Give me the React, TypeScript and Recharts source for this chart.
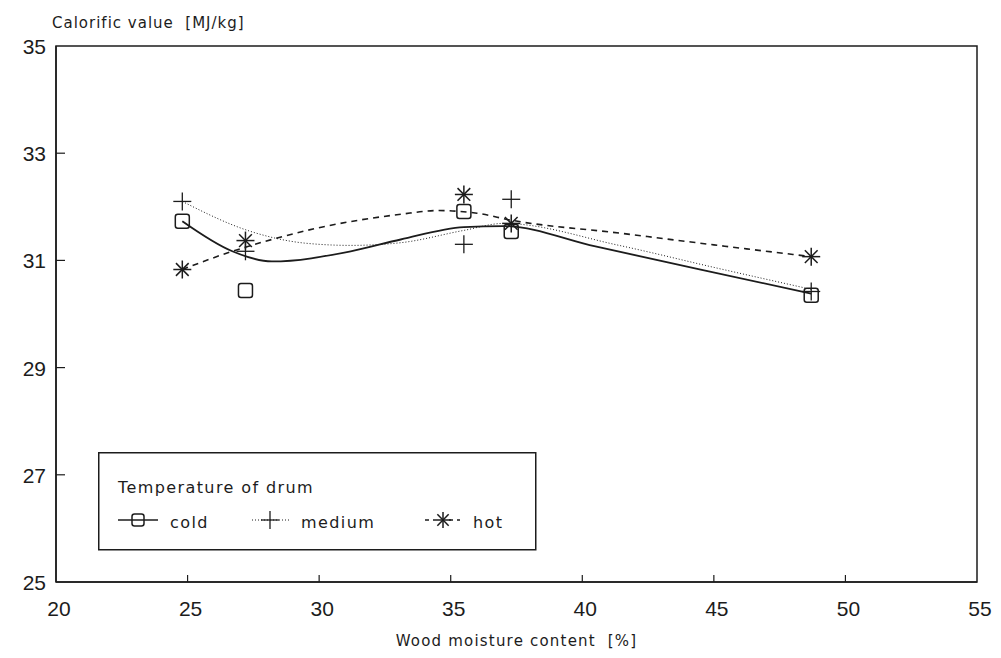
import React from 'react';
import {
  ComposedChart,
  Line,
  Scatter,
  XAxis,
  YAxis,
  ReferenceArea,
  Legend
} from 'recharts';

// measured points (wood moisture %, calorific value MJ/kg)
const moisture = [24.8, 27.2, 35.5, 37.3, 48.7];
const coldValues = [31.73, 30.44, 31.91, 31.54, 30.35];
const mediumValues = [32.1, 31.17, 31.3, 32.14, 30.42];
const hotValues = [30.83, 31.37, 32.23, 31.69, 31.07];

// fitted curves
const coldCurveX = [24.8, 26.7, 28.2, 31.2, 33.1, 35.5, 37.0, 40.5, 44.5, 48.7];
const coldCurveY = [31.73, 31.17, 30.98, 31.17, 31.39, 31.62, 31.64, 31.26, 30.83, 30.38];
const mediumCurveX = [24.8, 27.4, 29.5, 31.2, 33.1, 35.5, 37.0, 41.4, 45.0, 48.7];
const mediumCurveY = [32.1, 31.54, 31.32, 31.28, 31.33, 31.56, 31.69, 31.28, 30.87, 30.46];
const hotCurveX = [24.8, 26.7, 28.2, 29.9, 33.1, 34.5, 36.0, 37.3, 41.4, 45.0, 48.7];
const hotCurveY = [30.83, 31.17, 31.39, 31.6, 31.86, 31.93, 31.88, 31.75, 31.51, 31.29, 31.07];

const xTicks = [20, 25, 30, 35, 40, 45, 50, 55];
const yTicks = [25, 27, 29, 31, 33, 35];

const seriesNames = ['cold', 'medium', 'hot'];

const INK = '#1c1c1c';
const FONT = "'DejaVu Sans', sans-serif";
const NUM_FONT = "'Liberation Sans', Arial, sans-serif";

const toPoints = (xs: number[], ys: number[]) => xs.map((x, i) => ({ x, y: ys[i] }));

const coldPoints = toPoints(moisture, coldValues);
const mediumPoints = toPoints(moisture, mediumValues);
const hotPoints = toPoints(moisture, hotValues);
const coldCurve = toPoints(coldCurveX, coldCurveY);
const mediumCurve = toPoints(mediumCurveX, mediumCurveY);
const hotCurve = toPoints(hotCurveX, hotCurveY);

const SquareMark = ({ cx, cy, size = 14 }: any) => (
  <rect
    x={cx - size / 2}
    y={cy - size / 2}
    width={size}
    height={size}
    rx={2.5}
    fill="none"
    stroke={INK}
    strokeWidth={1.5}
  />
);

const PlusMark = ({ cx, cy, r = 9 }: any) => (
  <g stroke={INK} strokeWidth={1.3}>
    <line x1={cx - r} y1={cy} x2={cx + r} y2={cy} />
    <line x1={cx} y1={cy - r} x2={cx} y2={cy + r} />
  </g>
);

const StarMark = ({ cx, cy, r = 9 }: any) => {
  const rays = [0, 45, 90, 135];
  return (
    <g stroke={INK} strokeWidth={1.5}>
      {rays.map((a) => {
        const dx = Math.cos((a * Math.PI) / 180) * r;
        const dy = Math.sin((a * Math.PI) / 180) * r;
        return <line key={a} x1={cx - dx} y1={cy - dy} x2={cx + dx} y2={cy + dy} />;
      })}
    </g>
  );
};

const XTick = ({ x, y, payload }: any) => {
  const v = payload.value;
  const inner = v !== 20 && v !== 55;
  return (
    <g>
      {inner && <line x1={x} y1={y} x2={x} y2={y - 7} stroke={INK} strokeWidth={1.2} />}
      <text
        x={x + 3}
        y={y + 34}
        textAnchor="middle"
        fontFamily={NUM_FONT}
        fontSize={21}
        fill={INK}
      >
        {v}
      </text>
    </g>
  );
};

const YTick = ({ x, y, payload }: any) => {
  const v = payload.value;
  const inner = v !== 25 && v !== 35;
  return (
    <g>
      {inner && <line x1={x} y1={y} x2={x + 9} y2={y} stroke={INK} strokeWidth={1.2} />}
      <text
        x={x - 10}
        y={y + 8}
        textAnchor="end"
        fontFamily={NUM_FONT}
        fontSize={21}
        fill={INK}
      >
        {v}
      </text>
    </g>
  );
};

const LegendBox = () => {
  const rowY = 76;
  return (
    <svg width={440} height={100} style={{ display: 'block' }}>
      <rect x={0.75} y={0.75} width={437} height={97} fill="white" stroke={INK} strokeWidth={1.5} />
      <text x={20} y={41} fontFamily={FONT} fontSize={16} letterSpacing={1.4} fill={INK}>
        Temperature of drum
      </text>
      {/* cold */}
      <line x1={20} y1={rowY - 8} x2={60} y2={rowY - 8} stroke={INK} strokeWidth={1.6} />
      <SquareMark cx={40} cy={rowY - 8} size={12} />
      <text x={72} y={rowY} fontFamily={FONT} fontSize={16} letterSpacing={1.4} fill={INK}>
        {seriesNames[0]}
      </text>
      {/* medium */}
      <line x1={154} y1={rowY - 8} x2={192} y2={rowY - 8} stroke={INK} strokeWidth={1} strokeDasharray="1 2" />
      <PlusMark cx={172} cy={rowY - 8} r={9} />
      <text x={203} y={rowY} fontFamily={FONT} fontSize={16} letterSpacing={1.4} fill={INK}>
        {seriesNames[1]}
      </text>
      {/* hot */}
      <line x1={327} y1={rowY - 8} x2={362} y2={rowY - 8} stroke={INK} strokeWidth={1.4} strokeDasharray="4 4" />
      <rect x={337} y={rowY - 17} width={12} height={18} fill="white" />
      <StarMark cx={345} cy={rowY - 8} r={8} />
      <text x={375} y={rowY} fontFamily={FONT} fontSize={16} letterSpacing={1.4} fill={INK}>
        {seriesNames[2]}
      </text>
    </svg>
  );
};

const YTitle = ({ viewBox }: any) => (
  <text
    x={viewBox.x + viewBox.width - 4}
    y={viewBox.y - 18}
    fontFamily={FONT}
    fontSize={15}
    letterSpacing={1}
    fill={INK}
  >
    {'Calorific value\u00a0\u00a0[MJ/kg]'}
  </text>
);

const XTitle = ({ viewBox }: any) => (
  <text
    x={viewBox.x + viewBox.width / 2}
    y={viewBox.y + 64}
    textAnchor="middle"
    fontFamily={FONT}
    fontSize={15}
    letterSpacing={1.2}
    fill={INK}
  >
    {'Wood moisture content\u00a0\u00a0[%]'}
  </text>
);

export default function App() {
  return (
    <div style={{ width: 993, height: 650, background: 'white' }}>
      <ComposedChart
        width={993}
        height={650}
        margin={{ top: 38, right: 24, left: 8, bottom: 16 }}
      >
        <XAxis
          type="number"
          dataKey="x"
          domain={[20, 55]}
          ticks={xTicks}
          tick={<XTick />}
          tickSize={0}
          tickMargin={0}
          tickLine={false}
          axisLine={{ stroke: INK, strokeWidth: 1.5 }}
          height={60}
          interval={0}
          label={<XTitle />}
        />
        <YAxis
          type="number"
          dataKey="y"
          domain={[25, 35]}
          ticks={yTicks}
          tick={<YTick />}
          tickSize={0}
          tickMargin={0}
          tickLine={false}
          axisLine={{ stroke: INK, strokeWidth: 1.5 }}
          width={40}
          interval={0}
          label={<YTitle />}
        />
        <ReferenceArea x1={20} x2={55} y1={25} y2={35} fill="none" stroke={INK} strokeWidth={1.5} />
        <Line
          data={coldCurve}
          dataKey="y"
          type="monotone"
          stroke={INK}
          strokeWidth={1.8}
          dot={false}
          activeDot={false}
          isAnimationActive={false}
          legendType="none"
        />
        <Line
          data={mediumCurve}
          dataKey="y"
          type="monotone"
          stroke={INK}
          strokeWidth={1}
          strokeDasharray="1 2"
          dot={false}
          activeDot={false}
          isAnimationActive={false}
          legendType="none"
        />
        <Line
          data={hotCurve}
          dataKey="y"
          type="monotone"
          stroke={INK}
          strokeWidth={1.6}
          strokeDasharray="6 5"
          dot={false}
          activeDot={false}
          isAnimationActive={false}
          legendType="none"
        />
        <Scatter
          name={seriesNames[0]}
          data={coldPoints}
          shape={(p: any) => <SquareMark cx={p.cx} cy={p.cy} />}
          isAnimationActive={false}
        />
        <Scatter
          name={seriesNames[1]}
          data={mediumPoints}
          shape={(p: any) => <PlusMark cx={p.cx} cy={p.cy} />}
          isAnimationActive={false}
        />
        <Scatter
          name={seriesNames[2]}
          data={hotPoints}
          shape={(p: any) => <StarMark cx={p.cx} cy={p.cy} />}
          isAnimationActive={false}
        />
        <Legend
          layout="horizontal"
          verticalAlign="middle"
          align="center"
          content={() => <LegendBox />}
          wrapperStyle={{ position: 'absolute', left: 90, top: 444, width: 440, height: 100 }}
        />
      </ComposedChart>
    </div>
  );
}
